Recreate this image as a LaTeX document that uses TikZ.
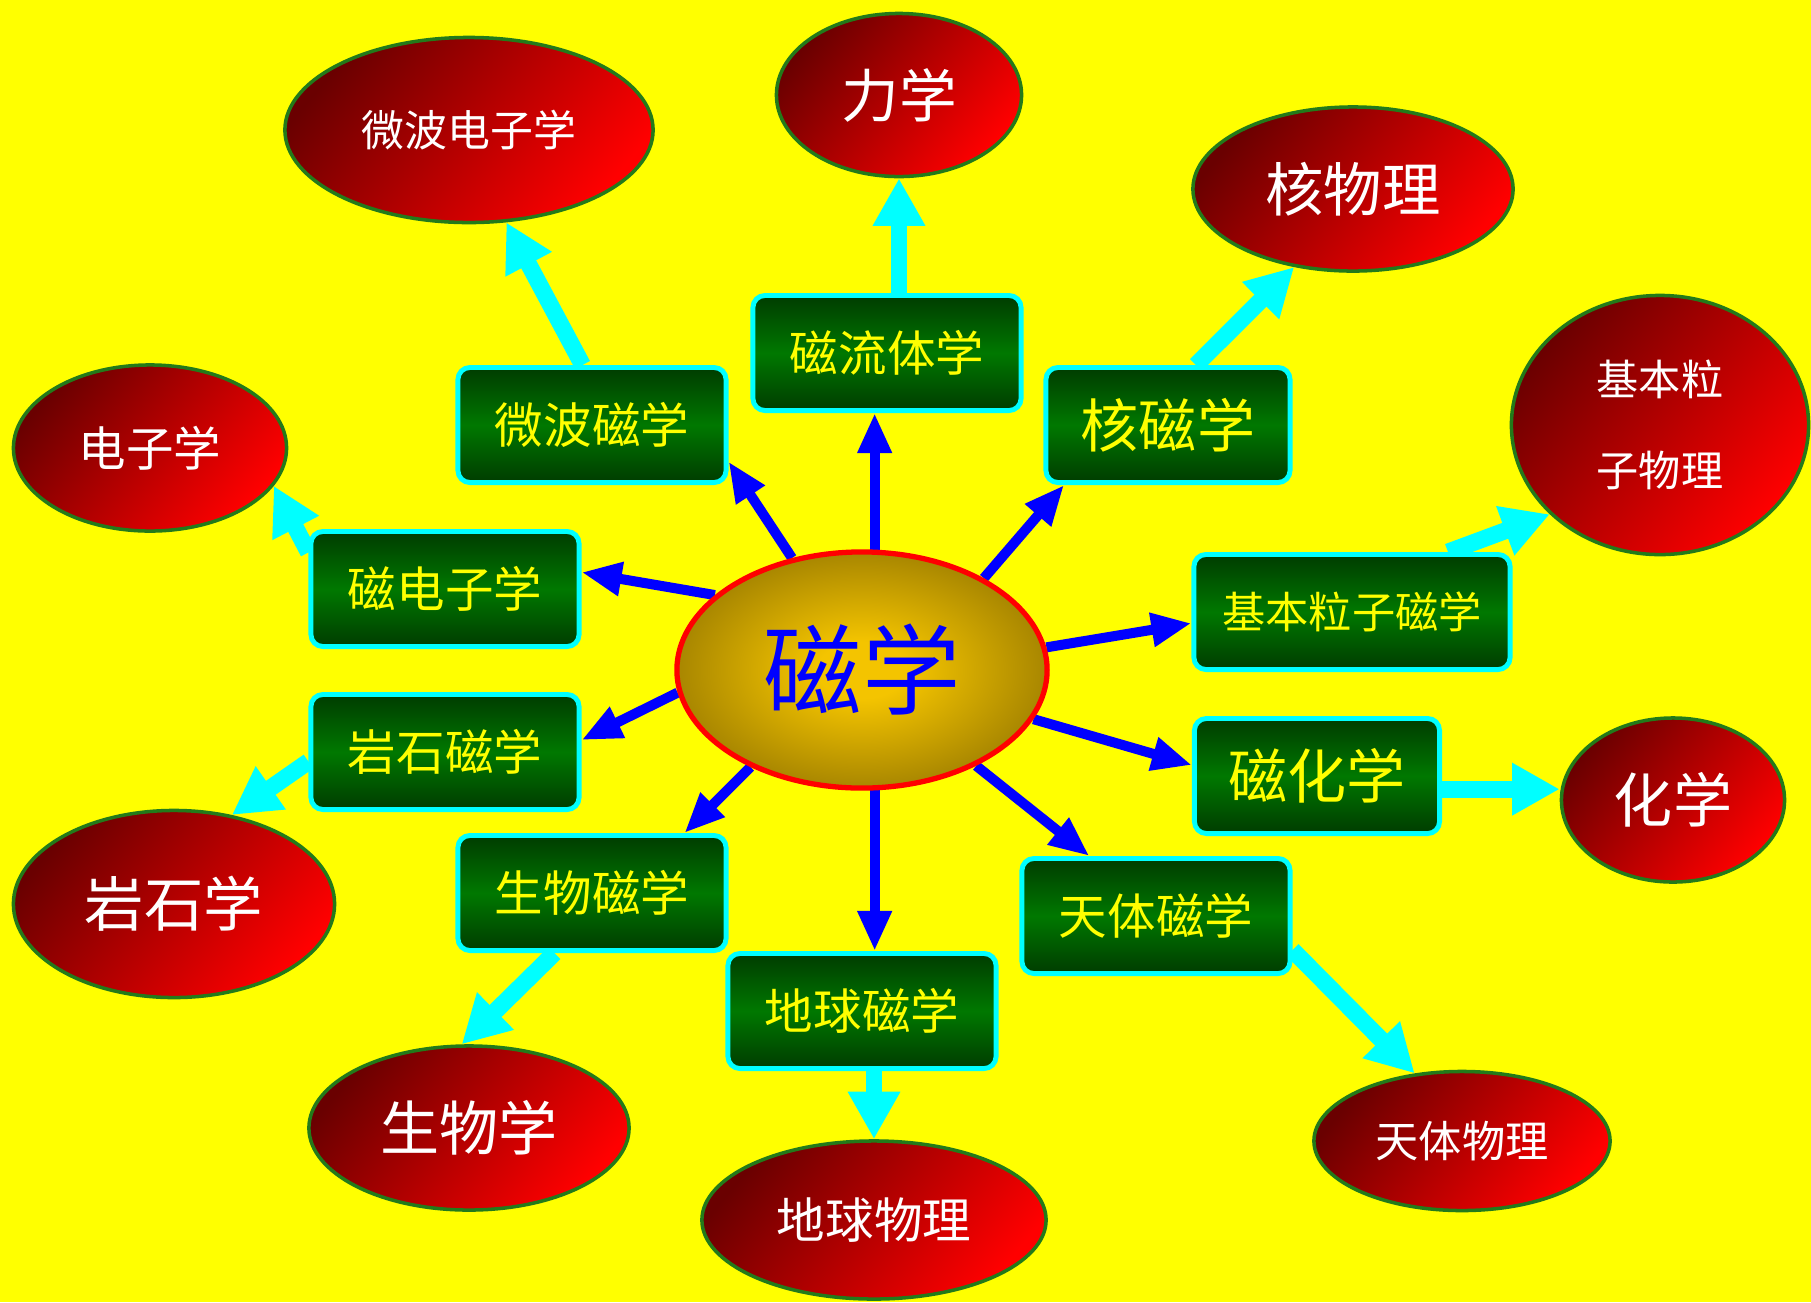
\documentclass[tikz,border=0pt]{standalone}
\usepackage{fontspec}
\newfontfamily\cjk{Noto Sans CJK SC}
\usetikzlibrary{arrows.meta,shapes.geometric,calc}
\definecolor{bgY}{HTML}{FFFF00}
\definecolor{arrB}{HTML}{0000FF}
\definecolor{arrC}{HTML}{00FFFF}
\definecolor{redD}{HTML}{6A0000}
\definecolor{redB}{HTML}{FF0000}
\definecolor{ellB}{HTML}{237A1A}
\definecolor{boxD}{HTML}{003C00}
\definecolor{boxM}{HTML}{007800}
\definecolor{cGold}{HTML}{F4C400}
\definecolor{cOlive}{HTML}{745C00}
\pgfdeclareradialshading{goldshade}{\pgfpoint{0bp}{0bp}}{color(0bp)=(cGold);color(6bp)=(cGold);color(38bp)=(cOlive);color(50bp)=(cOlive)}
\pgfdeclarelayer{back}
\pgfdeclarelayer{arr}
\pgfsetlayers{back,arr,main}
\newcommand\fz[2][]{\cjk\fontsize{#2}{#2}\selectfont}
\tikzset{
  boxnode/.style={rectangle, rounded corners=0.12cm, draw=arrC, line width=1.4pt,
    top color=boxD, bottom color=boxD, middle color=boxM,
    minimum height=1.15cm, inner sep=0pt, text=bgY},
  rednode/.style={ellipse, draw=ellB, line width=1pt,
    left color=redD, right color=redB, shading angle=50,
    inner sep=0pt, text=white},
  centernode/.style={ellipse, draw=redB, line width=1.5pt, shading=goldshade,
    inner sep=0pt, text=arrB},
  bluearr/.style={draw=arrB, line width=2.85pt, -{Triangle[length=11.4pt, width=9.1pt]}},
  cyanarr/.style={draw=arrC, line width=4.8pt, -{Triangle[length=13.5pt, width=14pt]}}
}
\begin{document}
\begin{tikzpicture}[x=0.01cm, y=-0.01cm]
\useasboundingbox (0,0) rectangle (1811,1302);
\begin{pgfonlayer}{back}
\fill[bgY] (0,0) rectangle (1811,1302);
\end{pgfonlayer}

% centre
\node[centernode, minimum width=3.70cm, minimum height=2.36cm, font=\fz{28}] (c) at (862,670) {磁学};

% green boxes
\node[boxnode, minimum width=2.68cm, font=\fz{13.8}] (lt) at (887,353) {磁流体学};
\node[boxnode, minimum width=2.68cm, font=\fz{13.8}] (wb) at (592,425) {微波磁学};
\node[boxnode, minimum width=2.44cm, font=\fz{16.5}] (hc) at (1168,425) {核磁学};
\node[boxnode, minimum width=2.68cm, font=\fz{13.8}] (dz) at (445,589) {磁电子学};
\node[boxnode, minimum width=3.16cm, font=\fz{12.3}] (jb) at (1352,612) {基本粒子磁学};
\node[boxnode, minimum width=2.68cm, font=\fz{13.8}] (ys) at (445,752) {岩石磁学};
\node[boxnode, minimum width=2.45cm, font=\fz{16.8}] (hx) at (1317,776) {磁化学};
\node[boxnode, minimum width=2.68cm, font=\fz{13.8}] (sw) at (592,893) {生物磁学};
\node[boxnode, minimum width=2.68cm, font=\fz{13.8}] (tt) at (1156,916) {天体磁学};
\node[boxnode, minimum width=2.68cm, font=\fz{13.8}] (dq) at (862,1011) {地球磁学};

% red ellipses
\node[rednode, minimum width=3.68cm, minimum height=1.85cm, font=\fz{12.2}] (wbe) at (469,130) {微波电子学};
\node[rednode, minimum width=2.45cm, minimum height=1.63cm, font=\fz{16.4}] (lx) at (899,95) {力学};
\node[rednode, minimum width=3.20cm, minimum height=1.64cm, font=\fz{16.6}] (hw) at (1353,189) {核物理};
\node[rednode, minimum width=2.97cm, minimum height=2.59cm, align=center, font=\cjk\fontsize{12}{26}\selectfont] (jbe) at (1660,425) {基本粒\\子物理};
\node[rednode, minimum width=2.73cm, minimum height=1.66cm, font=\fz{13.5}] (dzx) at (150,448) {电子学};
\node[rednode, minimum width=3.21cm, minimum height=1.87cm, font=\fz{16.9}] (ysx) at (174,904) {岩石学};
\node[rednode, minimum width=2.23cm, minimum height=1.64cm, font=\fz{16.8}] (hxx) at (1673,800) {化学};
\node[rednode, minimum width=3.20cm, minimum height=1.64cm, font=\fz{16.8}] (swx) at (469,1128) {生物学};
\node[rednode, minimum width=3.44cm, minimum height=1.58cm, font=\fz{13.8}] (dqw) at (874,1220) {地球物理};
\node[rednode, minimum width=2.96cm, minimum height=1.39cm, font=\fz{12.3}] (ttw) at (1462,1141) {天体物理};

\begin{pgfonlayer}{arr}
% blue arrows: centre to boxes
\draw[bluearr] (c.84) -- (c.84 |- lt.south);
\draw[bluearr] (c.122) -- (wb.-15);
\draw[bluearr] (c.37) -- (hc.210);
\draw[bluearr] (c.153) -- (dz.7);
\draw[bluearr] (c.7) -- (jb.184);
\draw[bluearr] (c.187) -- (ys.5);
\draw[bluearr] (c.344) -- (hx.175);
\draw[bluearr] (c.221) -- (sw.33);
\draw[bluearr] (c.276) -- (c.276 |- dq.north);
\draw[bluearr] (c.320) -- (tt.138);
% cyan arrows: boxes to ellipses
\draw[cyanarr] (wb.99) -- (wbe.292);
\draw[cyanarr] (lt.north -| lx.south) -- (lx.south);
\draw[cyanarr] (hc.65) -- (hw.233);
\draw[cyanarr] (jb.32) -- (jbe.219);
\draw[cyanarr] (dz.165) -- (dzx.343);
\draw[cyanarr] (ys.184) -- (ysx.57);
\draw[cyanarr] (hx.-6) -- (hx.-6 -| hxx.west);
\draw[cyanarr] (sw.238) -- (swx.95);
\draw[cyanarr] (dq.south -| dqw.north) -- (dqw.north);
\draw[cyanarr] (tt.-14) -- (ttw.125);
\end{pgfonlayer}
\end{tikzpicture}
\end{document}
